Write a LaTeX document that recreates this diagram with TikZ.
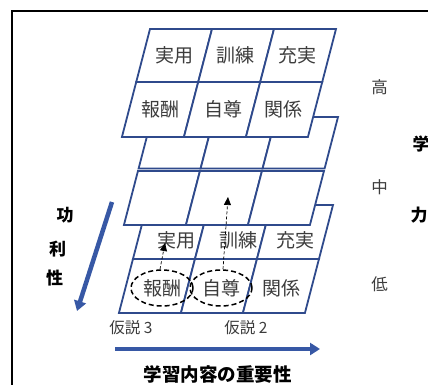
\documentclass[tikz,border=0pt]{standalone}
\usepackage{fontspec}
\newfontfamily\jp{Noto Sans CJK JP}
\usetikzlibrary{arrows.meta,shapes.geometric}
\definecolor{gridblue}{RGB}{47,74,140}
\definecolor{arrblue}{RGB}{55,88,165}
\definecolor{txtgray}{RGB}{60,60,60}
\tikzset{
 gridline/.style={draw=gridblue, fill=white, line width=1.8pt, line join=miter},
 celltext/.style={font=\jp\fontsize{19}{19}\selectfont, text=txtgray, inner sep=0pt},
 levtext/.style={font=\jp\fontsize{16.5}{16.5}\selectfont, text=txtgray, inner sep=0pt},
 boldlab/.style={font=\jp\bfseries\fontsize{17}{17}\selectfont, text=black, inner sep=0pt},
 hypo/.style={font=\jp\fontsize{15.5}{15.5}\selectfont, text=txtgray, inner sep=0pt},
 bigarrow/.style={draw=arrblue, line width=4.5pt, -{Triangle[length=10pt,width=12pt]}},
 dasharrow/.style={draw=black, line width=0.7pt, densely dashed, -{Triangle[length=8pt,width=7pt]}},
 dashell/.style={draw=black, line width=1.5pt, dash pattern=on 5pt off 3pt, ellipse, minimum width=62pt, minimum height=36pt, inner sep=0pt},
}
% #1 = layer top-left x, #2 = layer top y, #3 = row top y, #4 = row bottom y
\newcommand\gridrow[4]{%
  \foreach \i in {0,1,2}{%
    \filldraw[gridline]
      ({#1-0.26*(#3-#2)+62*\i},#3) -- ({#1-0.26*(#3-#2)+62*(\i+1)},#3) --
      ({#1-0.26*(#4-#2)+62*(\i+1)},#4) -- ({#1-0.26*(#4-#2)+62*\i},#4) -- cycle;
  }}
\begin{document}
\begin{tikzpicture}[x=1pt,y=-1pt]
\useasboundingbox (0,0) rectangle (428,385);
\fill[white] (0,0) rectangle (428,385);
% frame
\draw[black, line width=1.8pt] (12,395) -- (12,11) -- (440,11);

% layer C (low)
\gridrow{147}{205}{205}{259}
\gridrow{147}{205}{259}{313}
\node[celltext] (c1) at (176,240) {実用};
\node[celltext] (c2) at (238,240) {訓練};
\node[celltext] (c3) at (295,240) {充実};
\node[celltext] (c6) at (281,288) {関係};

% layer B (middle)
\gridrow{152}{117}{117}{168.5}
\gridrow{152}{117}{171}{225}

% layer A (high)
\gridrow{150}{29}{29}{82}
\gridrow{150}{29}{82}{137}
\node[celltext] (a1) at (174,55) {実用};
\node[celltext] (a2) at (235,55) {訓練};
\node[celltext] (a3) at (297,55) {充実};
\node[celltext] (a4) at (160,109) {報酬};
\node[celltext] (a5) at (223,109) {自尊};
\node[celltext] (a6) at (283,109) {関係};

% hypotheses
\node[dashell, celltext] (e1) at (162,288) {報酬};
\node[dashell, celltext] (e2) at (221,288) {自尊};
\coordinate (t3) at (165,243);
\coordinate (t2) at (228,197);
\draw[dasharrow] ([xshift=-2pt]e1.north) -- (t3);
\draw[dasharrow] ([xshift=2pt]e2.north) -- (t2);
\node[hypo] (h3) at (131,328) {仮説 3};
\node[hypo] (h2) at (246,328) {仮説 2};

% level labels
\node[levtext] (hi) at (379.5,87) {高};
\node[levtext] (mid) at (379.5,187) {中};
\node[levtext] (lo) at (379.5,284) {低};

% side labels
\node[boldlab] (g1) at (421,144) {学};
\node[boldlab] (g2) at (419,215) {力};
\node[boldlab] (k1) at (65,215.5) {功};
\node[boldlab] (k2) at (57.5,249) {利};
\node[boldlab] (k3) at (54.5,278.5) {性};

% axis arrows
\coordinate (la1) at (112,202);
\coordinate (la2) at (77,311);
\draw[bigarrow] (la1) -- (la2);
\coordinate (ba1) at (115,349);
\coordinate (ba2) at (320,349);
\draw[bigarrow] (ba1) -- (ba2);
\node[font=\jp\bfseries\fontsize{18.5}{18.5}\selectfont, inner sep=0pt] (title) at (217.5,374) {学習内容の重要性};
\end{tikzpicture}
\end{document}
